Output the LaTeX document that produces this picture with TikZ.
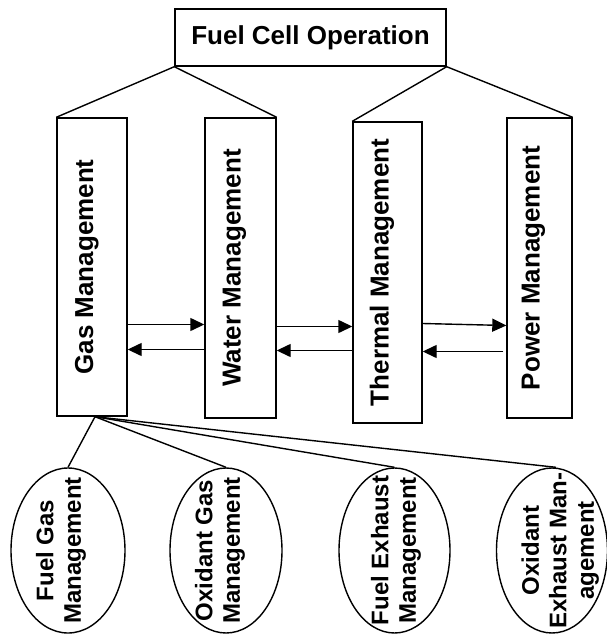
\documentclass[tikz,border=0pt]{standalone}
\usepackage{fontspec}
\setmainfont{Liberation Sans}[BoldFont={Liberation Sans Bold}]
\usetikzlibrary{arrows.meta,calc,shapes.geometric}
\begin{document}
\begin{tikzpicture}[x=1pt,y=-1pt,line width=1.4pt,
  boxnode/.style={draw,rectangle,inner sep=0pt,line width=1.4pt},
  ellnode/.style={draw,ellipse,inner sep=0pt,minimum width=112pt,minimum height=165pt,line width=1.4pt},
  boxtext/.style={rotate=90,anchor=base,inner sep=0pt,font=\fontsize{26}{30}\selectfont\bfseries},
  elltext/.style={rotate=90,anchor=north,inner sep=0pt,align=center,font=\fontsize{24}{27.5}\selectfont\bfseries},
  arr/.style={-{Triangle[length=14pt,width=13pt]},line width=1.4pt}]
\useasboundingbox (0,0) rectangle (607,635);
% top box
\node[boxnode,minimum width=271pt,minimum height=57pt,font=\fontsize{26}{30}\selectfont\bfseries] (top) at (310.5,37.5) {Fuel Cell Operation\hspace{8pt}};
% management boxes
\node[boxnode,minimum width=70pt,minimum height=298pt] (gas) at (92,267) {};
\node[boxnode,minimum width=71pt,minimum height=300pt] (water) at (240.5,268) {};
\node[boxnode,minimum width=69pt,minimum height=301pt] (thermal) at (387.5,272.5) {};
\node[boxnode,minimum width=65pt,minimum height=300pt] (power) at (539.5,268) {};
\node[boxtext] (gast) at ($(gas.center)+(1,0)$) {Gas Management};
\node[boxtext] (watert) at (water.center) {Water Management};
\node[boxtext] (thermalt) at ($(thermal.center)+(1,0)$) {Thermal Management};
\node[boxtext] (powert) at (power.center) {Power Management};
% tree lines
\draw (top.south west) -- (gas.north west);
\draw (top.south west) -- (water.north east);
\draw (top.south east) -- (thermal.north west);
\draw (top.south east) -- (power.north east);
% arrows
\coordinate (ya) at (0,324.5);
\coordinate (yb) at (0,349.5);
\coordinate (yc) at (0,326.5);
\coordinate (yd) at (0,350.5);
\coordinate (ye1) at (0,323.5);
\coordinate (ye2) at (0,325.5);
\coordinate (yf) at (0,351.5);
\draw[arr] (gas.east |- ya) -- (water.west |- ya);
\draw[arr] (water.west |- yb) -- (gas.east |- yb);
\draw[arr] (water.east |- yc) -- (thermal.west |- yc);
\draw[arr] (thermal.west |- yd) -- (water.east |- yd);
\draw[arr] (thermal.east |- ye1) -- (power.west |- ye2);
\draw[arr] ($(power.west |- yf)+(-3,0)$) -- (thermal.east |- yf);
% ellipses
\node[ellnode,minimum width=114pt] (fg) at (68,550.5) {};
\node[ellnode] (og) at (226,550.5) {};
\node[ellnode,minimum width=111pt] (fe) at (394.5,550.5) {};
\node[ellnode,minimum width=111pt] (oe) at (552,550.5) {};
\node[elltext] (fgt) at ($(fg.west)+(25,0)$) {Fuel Gas\\Management};
\node[elltext] (ogt) at ($(og.west)+(25,0)$) {Oxidant Gas\\Management};
\node[elltext] (fet) at ($(fe.west)+(32,0)$) {Fuel Exhaust\\Management};
\node[elltext] (oet) at ($(oe.west)+(25,0)$) {Oxidant\\Exhaust Man-\\agement};
% sub lines
\coordinate (gs) at ($(gas.south)+(3,0)$);
\draw (gs) -- (fg.north);
\draw (gs) -- (og.north);
\draw (gs) -- (fe.north);
\draw (gs) -- ($(oe.north)+(4,0)$);
\end{tikzpicture}
\end{document}
